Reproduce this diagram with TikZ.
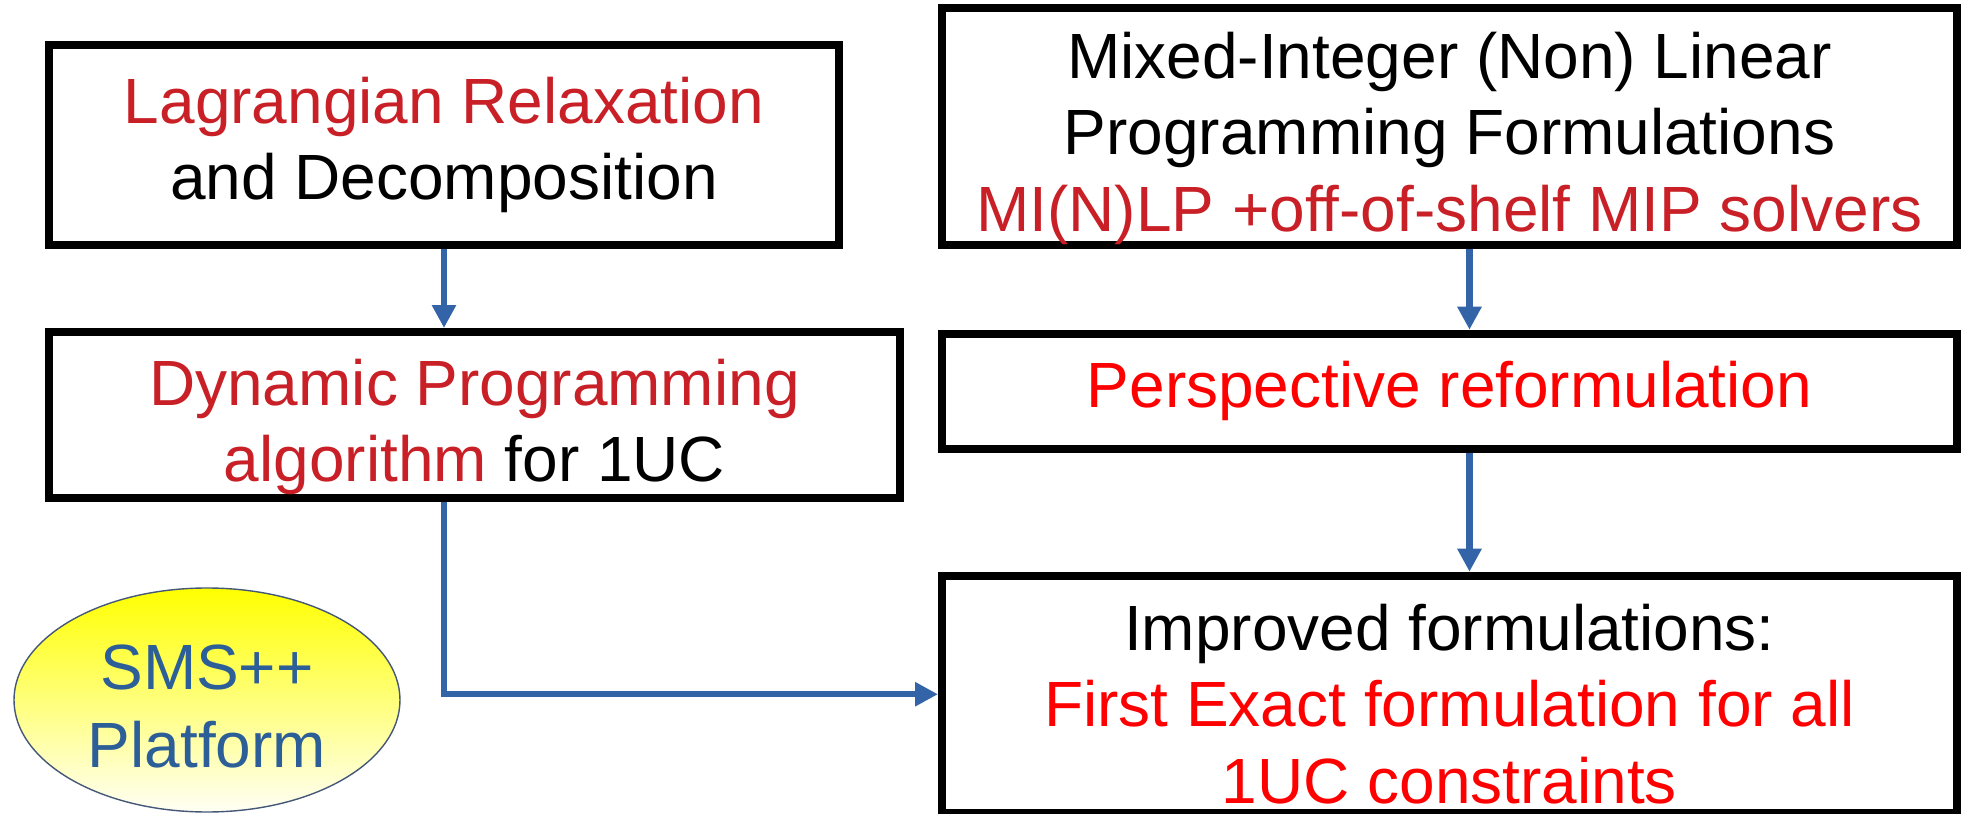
\documentclass[tikz,border=0pt]{standalone}
\usepackage{fontspec}
\setmainfont{Liberation Sans}
\usetikzlibrary{positioning}
\usetikzlibrary{shapes.geometric}
\usetikzlibrary{arrows.meta}
\definecolor{arrowblue}{RGB}{52, 100, 168}
\definecolor{darkred}{RGB}{200, 32, 38}
\definecolor{brightred}{RGB}{255, 0, 0}
\definecolor{smsblue}{RGB}{44, 94, 152}
\definecolor{smsedge}{RGB}{70, 88, 120}
\newcommand{\toppad}[1]{\rule{0pt}{#1}}

\begin{document}
\begin{tikzpicture}[
                node distance=0.8cm,
                box/.style={rectangle, draw=black, line width=0.08cm, inner sep=0pt,
                    align=center, font=\fontsize{18.2}{21.8}\selectfont},
                line/.style={-{Triangle[length=0.23cm, width=0.23cm]},
                    line width=0.065cm, color=arrowblue}
                ]
                \useasboundingbox (0,0) rectangle (19.73,-8.14);
                \node[box, minimum width=7.9cm, minimum height=2cm] (lagr) at (4.44,-1.45)
                    {\textcolor{darkred}{Lagrangian Relaxation}\\and Decomposition};
                \node[box, minimum width=8.51cm, minimum height=1.66cm,
                    below=0.79cm of lagr.south west, anchor=north west] (dp)
                    {\toppad{0.7cm}\textcolor{darkred}{Dynamic Programming}\\\textcolor{darkred}{algorithm} for 1UC};
                \node[box, minimum width=10.15cm, minimum height=2.35cm] (minlp) at (14.495,-1.265)
                    {\toppad{0.7cm}Mixed-Integer (Non) Linear\\Programming Formulations\\
                    \textcolor{darkred}{MI(N)LP +off-of-shelf MIP solvers}};
                \node[box, minimum width=10.15cm, minimum height=1.15cm,
                    below=0.81cm of minlp, text=brightred] (persp) {Perspective reformulation};
                \node[box, minimum width=10.15cm, minimum height=2.37cm,
                    below=1.19cm of persp] (impr)
                    {\toppad{0.66cm}Improved formulations:\\\textcolor{brightred}{First Exact formulation for all}\\
                    \textcolor{brightred}{1UC constraints}};
                \node[ellipse, draw=smsedge, line width=0.4pt, inner sep=0pt,
                    top color=yellow, bottom color=yellow!4,
                    minimum width=3.86cm, minimum height=2.24cm, align=center,
                    text=smsblue, font=\fontsize{18.2}{22.2}\selectfont] (sms) at (2.07,-7.0)
                    {\toppad{0.58cm}SMS++\\Platform};
                \draw[line] (lagr.south) -- (lagr.south |- dp.north);
                \draw[line] ([xshift=0.2cm]minlp.south) -- ([xshift=0.2cm]persp.north);
                \draw[line] ([xshift=0.2cm]persp.south) -- ([xshift=0.2cm]impr.north);
                \draw[line] (lagr.south |- dp.south) |- (impr.west);
            \end{tikzpicture}
\end{document}
